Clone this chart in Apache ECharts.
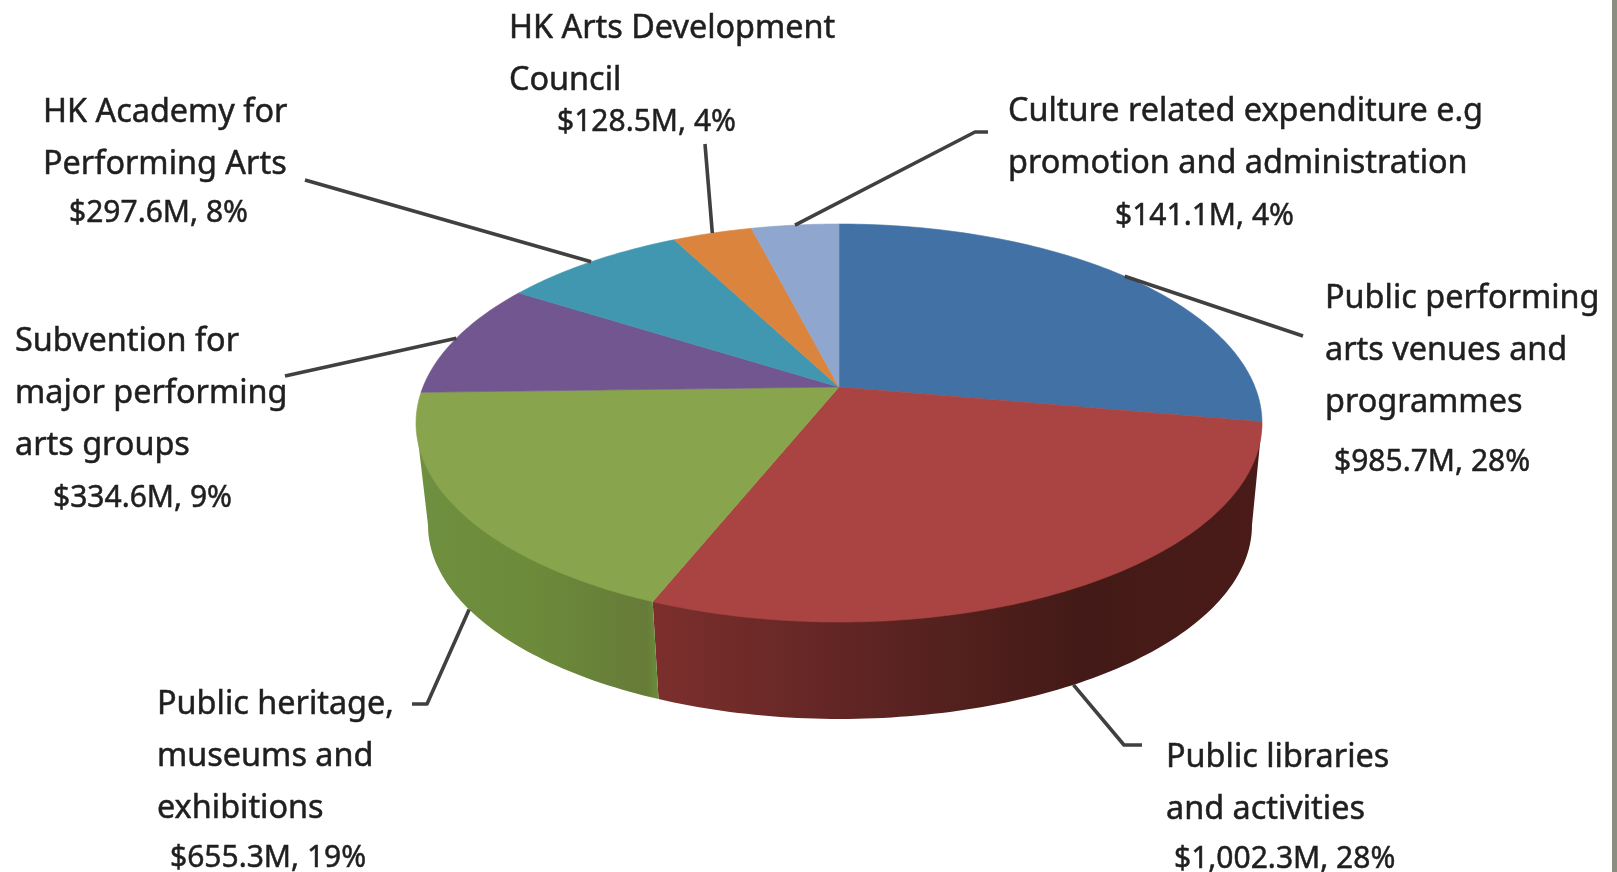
<!DOCTYPE html>
<html><head><meta charset="utf-8">
<style>html,body{margin:0;padding:0;background:#fff}#c{width:1617px;height:872px}</style>
<script src="https://cdn.jsdelivr.net/npm/echarts@6/dist/echarts.min.js"></script>
</head><body><div id="c"></div>
<script>
// ---- data (clockwise from 12 o'clock)
const categories = [
  ['Public performing','arts venues and','programmes'],
  ['Public libraries','and activities'],
  ['Public heritage,','museums and','exhibitions'],
  ['Subvention for','major performing','arts groups'],
  ['HK Academy for','Performing Arts'],
  ['HK Arts Development','Council'],
  ['Culture related expenditure e.g','promotion and administration']
];
const amounts = [985.7, 1002.3, 655.3, 334.6, 297.6, 128.5, 141.1];
const percents = [28, 28, 19, 9, 8, 4, 4];

// ---- styles and layout
const faceColors = ['#4271a6','#a94442','#88a54e','#71568f','#4197af','#db843d','#8fa6cf'];
const wallStops = {
  1: [[0,'#7c2f2d'],[0.4,'#5a2321'],[0.7,'#431a17'],[1,'#4a1b18']],
  2: [[0,'#6f9040'],[0.5,'#6c8a3a'],[0.95,'#667b38'],[1,'#6a8f3c']]
};
const FONT = '"Noto Sans"', FS_NAME = 32.4, FS_AMT = 30, TXT = '#1f1f1f', LEAD = '#404040';
// label layout: left x, first-line centre y, line step, amount-line x, amount-line y
const labelLayout = [
  {x:1325,y:299,step:52,ax:1334,ay:462},
  {x:1166,y:758,step:52,ax:1174,ay:859},
  {x:157,y:705,step:52,ax:170,ay:858},
  {x:15,y:342,step:52,ax:53,ay:498},
  {x:43,y:113,step:52,ax:69,ay:213},
  {x:509,y:29,step:52,ax:557,ay:122},
  {x:1008,y:112,step:52,ax:1115,ay:216}
];
// leader line: elbow points after the computed anchor on the pie; onWall = anchor on lower rim
const leaders = [
  {pts:[[1303,336]]},
  {pts:[[1124,745],[1142,745]],onWall:true},
  {pts:[[427,704],[412,704]],onWall:true},
  {pts:[[285,376]]},
  {pts:[[305,180]]},
  {pts:[[705,144]]},
  {pts:[[975,132],[988,132]]}
];

// ---- perspective projection of the disc
const CX = 839, CY = 387, A = 416, B = 192.5, K = 0.181, SHRINK = 0.974, DROP = 103;
const total = amounts.reduce((a,b)=>a+b,0);
const cum = [0]; amounts.forEach((v,i)=>cum.push(cum[i]+v/total*360));
function proj(deg, lower){
  const r = deg*Math.PI/180, X = Math.sin(r), Y = -Math.cos(r), w = 1-K*Y;
  const s = lower?SHRINK:1;
  return [CX+(lower?1:0)+s*A*X/w, CY+s*B*Y/w+(lower?DROP:0)];
}
function arc(a,b,lower){
  const out=[], n=Math.max(2,Math.ceil((b-a)));
  for(let i=0;i<=n;i++) out.push(proj(a+(b-a)*i/n,lower));
  return out;
}
// angles at which the disc reaches its right and left extremes
const RIGHT_EXT = Math.acos(-K)*180/Math.PI, LEFT_EXT = 360-RIGHT_EXT;
const chart = echarts.init(document.getElementById('c'),null,{renderer:'canvas'});
const seriesData = amounts.map(v=>[v]);

function renderWall(p,api){
  const i=p.dataIndex;
  if(!wallStops[i]) return {type:'group',children:[]};
  let pts;
  if(i===1){ // from the right extreme round to the red/green boundary
    pts=[proj(RIGHT_EXT,false)].concat(arc(RIGHT_EXT,cum[2],true),[proj(cum[2],false)]);
  }else{     // from the red/green boundary round to the left extreme
    pts=[proj(cum[2],false)].concat(arc(cum[2],LEFT_EXT,true),[proj(LEFT_EXT,false)]);
  }
  return {type:'polygon',shape:{points:pts},style:{
    fill:new echarts.graphic.LinearGradient(0,0,1,0,wallStops[i].map(s=>({offset:s[0],color:s[1]})))
  }};
}
function renderFace(p,api){
  const i=p.dataIndex;
  const pts=[[CX,CY]].concat(arc(cum[i],cum[i+1],false));
  return {type:'polygon',shape:{points:pts},style:{fill:faceColors[i],stroke:faceColors[i],lineWidth:0.6}};
}
function renderNote(p,api){
  const i=p.dataIndex, L=labelLayout[i], Le=leaders[i];
  const mid=(cum[i]+cum[i+1])/2;
  const kids=[{type:'polyline',shape:{points:[proj(mid,!!Le.onWall)].concat(Le.pts)},
    style:{stroke:LEAD,lineWidth:3.6,fill:null,lineJoin:'round'}}];
  const txt=(t,x,y,fs)=>({type:'text',x,y,style:{text:t,fontFamily:FONT,fontSize:fs,fill:TXT,stroke:TXT,lineWidth:0.5,verticalAlign:'middle',align:'left'}});
  categories[i].forEach((t,k)=>kids.push(txt(t,L.x,L.y+k*L.step,FS_NAME)));
  const val='$'+api.value(0).toLocaleString('en-US',{minimumFractionDigits:1,maximumFractionDigits:1})+'M, '+percents[i]+'%';
  kids.push(txt(val,L.ax,L.ay,FS_AMT));
  return {type:'group',children:kids};
}
chart.setOption({
  animation:false,
  backgroundColor:'#ffffff',
  series:[
    {type:'custom',coordinateSystem:'none',silent:true,z:1,data:seriesData,renderItem:renderWall},
    {type:'custom',coordinateSystem:'none',silent:true,z:2,data:seriesData,renderItem:renderFace},
    {type:'custom',coordinateSystem:'none',silent:true,z:3,data:seriesData,renderItem:renderNote}
  ],
  graphic:[{type:'rect',shape:{x:1612,y:0,width:5,height:872},style:{fill:'#8b8f80'},silent:true}]
});
</script></body></html>
